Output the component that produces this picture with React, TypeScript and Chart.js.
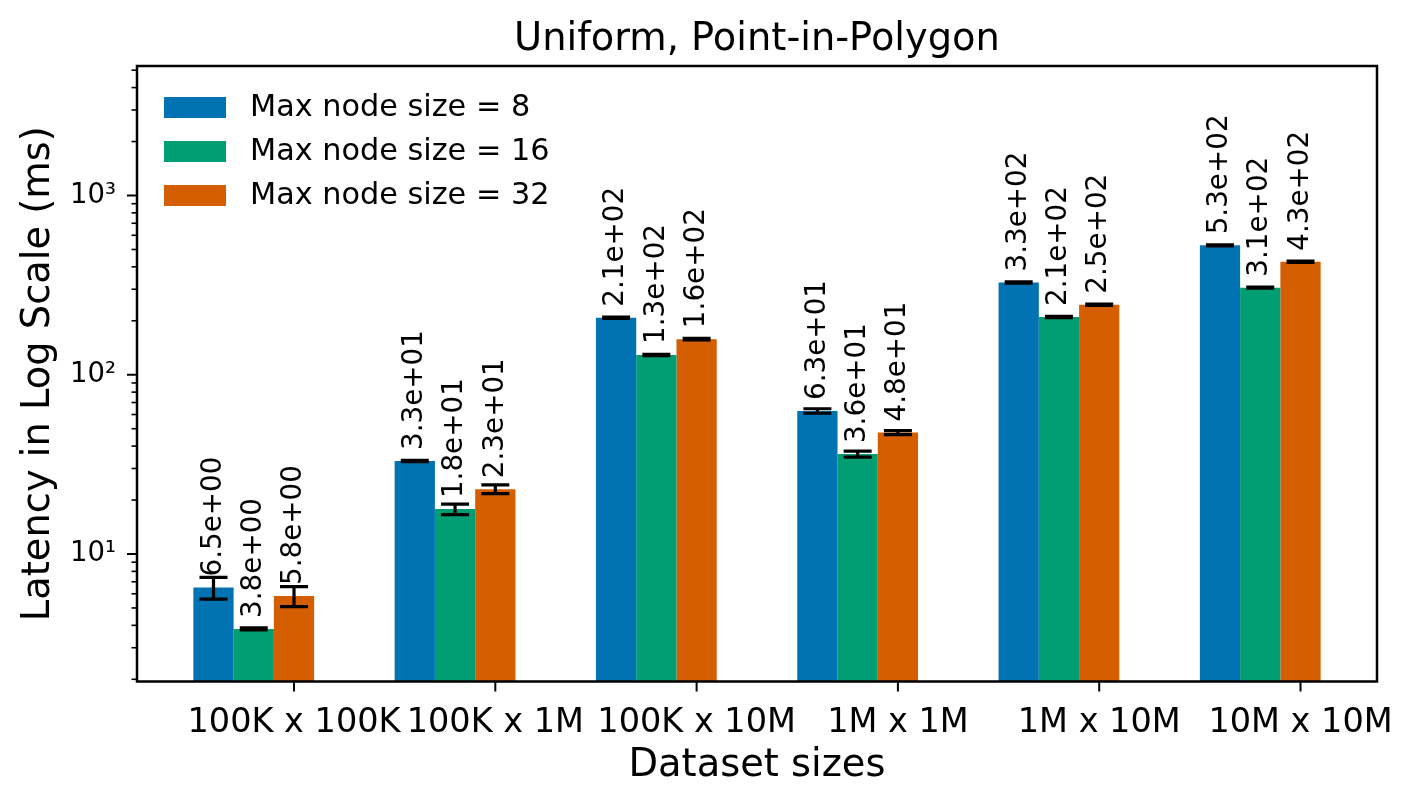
import React, { useEffect, useRef } from 'react';
import { Chart, registerables } from 'chart.js';

Chart.register(...registerables);

// ---------- data ----------
const categories = ['100K x 100K', '100K x 1M', '100K x 10M', '1M x 1M', '1M x 10M', '10M x 10M'];
const seriesLabels = ['Max node size = 8', 'Max node size = 16', 'Max node size = 32'];
const node8 = [6.5, 33.0, 208, 62.8, 327, 527];
const node16 = [3.82, 17.8, 129, 36.1, 210, 306];
const node32 = [5.83, 23.0, 158, 47.6, 246, 427];
const err8 = [0.9, 0.3, 2, 1.8, 2.5, 4];
const err16 = [0.05, 1.2, 1, 1.4, 1.5, 2];
const err32 = [0.75, 1.3, 1.5, 1.2, 2, 3];
const seriesColors = ['#0173B2', '#029E73', '#D55E00'];
const yMajorTicks = [10, 100, 1000];
const yMajorLabels = ['10¹', '10²', '10³'];
const yMinorTicks = [2, 3, 4, 5, 6, 7, 8, 9, 20, 30, 40, 50, 60, 70, 80, 90, 200, 300, 400, 500, 600, 700, 800, 900, 2000, 3000, 4000, 5000];
const yMin = 1.944;
const yMax = 5278;
const xMin = -0.58;
const xMax = 5.58;
const xTickOffset = 0.2;
const chartTitle = 'Uniform, Point-in-Polygon';
const xTitle = 'Dataset sizes';
const yTitle = 'Latency in Log Scale (ms)';

const FAMILY = '"DejaVu Sans", "Liberation Sans", sans-serif';

function sci(v: number): string {
  const [m, e] = v.toExponential(1).split('e');
  const n = parseInt(e, 10);
  return m + 'e' + (n < 0 ? '-' : '+') + String(Math.abs(n)).padStart(2, '0');
}

const overlayPlugin = {
  id: 'overlay',
  afterDatasetsDraw(chart: any) {
    const ctx = chart.ctx;
    const ys = chart.scales.y;
    chart.data.datasets.forEach((ds: any, i: number) => {
      const meta = chart.getDatasetMeta(i);
      meta.data.forEach((el: any, j: number) => {
        const v = ds.data[j].y;
        const e = ds.errors[j];
        const x = el.x;
        const yt = ys.getPixelForValue(v + e);
        const yb = ys.getPixelForValue(v - e);
        ctx.save();
        ctx.strokeStyle = '#000';
        ctx.lineWidth = 3.2;
        ctx.lineCap = 'butt';
        ctx.beginPath();
        ctx.moveTo(x, yt);
        ctx.lineTo(x, yb);
        ctx.moveTo(x - 14, yt);
        ctx.lineTo(x + 14, yt);
        ctx.moveTo(x - 14, yb);
        ctx.lineTo(x + 14, yb);
        ctx.stroke();
        ctx.restore();
      });
    });
    chart.data.datasets.forEach((ds: any, i: number) => {
      const meta = chart.getDatasetMeta(i);
      meta.data.forEach((el: any, j: number) => {
        const v = ds.data[j].y;
        ctx.save();
        ctx.translate(el.x, el.y - 11);
        ctx.rotate(-Math.PI / 2);
        ctx.font = `27.8px ${FAMILY}`;
        ctx.fillStyle = '#000';
        ctx.textAlign = 'left';
        ctx.textBaseline = 'middle';
        ctx.fillText(sci(v), 0, 0);
        ctx.restore();
      });
    });
  },
  afterDraw(chart: any) {
    const ctx = chart.ctx;
    const a = chart.chartArea;
    const xs = chart.scales.x;
    const ys = chart.scales.y;
    ctx.save();
    ctx.strokeStyle = '#000';
    // y ticks
    ctx.lineWidth = 2;
    yMajorTicks.forEach((v) => {
      const p = ys.getPixelForValue(v);
      ctx.beginPath();
      ctx.moveTo(a.left - 10, p);
      ctx.lineTo(a.left, p);
      ctx.stroke();
    });
    ctx.lineWidth = 1.6;
    yMinorTicks.forEach((v) => {
      const p = ys.getPixelForValue(v);
      if (p < a.top - 0.5 || p > a.bottom + 0.5) return;
      ctx.beginPath();
      ctx.moveTo(a.left - 5.5, p);
      ctx.lineTo(a.left, p);
      ctx.stroke();
    });
    // x ticks
    ctx.lineWidth = 2;
    xs.ticks.forEach((t: any) => {
      const p = xs.getPixelForValue(t.value);
      ctx.beginPath();
      ctx.moveTo(p, a.bottom);
      ctx.lineTo(p, a.bottom + 10);
      ctx.stroke();
    });
    // frame
    ctx.lineWidth = 2.5;
    ctx.strokeRect(a.left, a.top, a.right - a.left, a.bottom - a.top);
    // title
    ctx.fillStyle = '#000';
    ctx.font = `38.4px ${FAMILY}`;
    ctx.textAlign = 'center';
    ctx.textBaseline = 'alphabetic';
    ctx.fillText(chartTitle, (a.left + a.right) / 2, 50);
    // legend
    const rowsY = [107.5, 151.5, 195.5];
    chart.data.datasets.forEach((ds: any, i: number) => {
      const cy = rowsY[i];
      ctx.fillStyle = ds.backgroundColor;
      ctx.fillRect(a.left + 27, cy - 10.5, 62, 21);
      ctx.fillStyle = '#000';
      ctx.font = `30.3px ${FAMILY}`;
      ctx.textAlign = 'left';
      ctx.textBaseline = 'middle';
      ctx.fillText(ds.label, a.left + 113, cy + 1);
    });
    ctx.restore();
  },
};

export default function App() {
  const ref = useRef<HTMLCanvasElement>(null);
  useEffect(() => {
    const seriesValues = [node8, node16, node32];
    const seriesErrors = [err8, err16, err32];
    const chart = new Chart(ref.current as HTMLCanvasElement, {
      type: 'bar',
      data: {
        datasets: seriesLabels.map((label, i) => ({
          label,
          data: seriesValues[i].map((y, k) => ({ x: k, y })),
          errors: seriesErrors[i],
          backgroundColor: seriesColors[i],
          borderWidth: 0,
          barPercentage: 1,
          categoryPercentage: 0.6,
        })) as any,
      },
      options: {
        responsive: false,
        animation: false,
        devicePixelRatio: 1,
        layout: { padding: { left: 0, top: 66, right: 35, bottom: 0 } },
        plugins: {
          legend: { display: false },
          title: { display: false },
          tooltip: { enabled: false },
        },
        scales: {
          x: {
            type: 'linear',
            min: xMin,
            max: xMax,
            offset: false,
            bounds: 'data',
            grid: { display: false, offset: false },
            border: { display: false },
            afterBuildTicks: (s: any) => {
              s.ticks = categories.map((_, i) => ({ value: i + xTickOffset }));
            },
            afterFit: (s: any) => {
              s.height = 122.5;
              s.paddingLeft = 0;
              s.paddingRight = 0;
            },
            ticks: {
              autoSkip: false,
              maxRotation: 0,
              minRotation: 0,
              padding: 14,
              color: '#000',
              font: { family: FAMILY, size: 33.5 },
              callback: (_v: any, i: number) => categories[i],
            },
            title: {
              display: true,
              text: xTitle,
              color: '#000',
              font: { family: FAMILY, size: 38.4 },
              padding: { top: 0, bottom: 15 },
            },
          },
          y: {
            type: 'logarithmic',
            min: yMin,
            max: yMax,
            bounds: 'data',
            grid: { display: false },
            border: { display: false },
            afterBuildTicks: (s: any) => {
              s.ticks = [...yMajorTicks, ...yMinorTicks].sort((p, q) => p - q).map((v) => ({ value: v }));
            },
            afterFit: (s: any) => {
              s.width = 137;
              s.paddingTop = 0;
              s.paddingBottom = 0;
            },
            ticks: {
              autoSkip: false,
              padding: 13,
              color: '#000',
              font: { family: FAMILY, size: 27.5 },
              callback: (v: any) => {
                const k = yMajorTicks.indexOf(Number(v));
                return k >= 0 ? yMajorLabels[k] : '';
              },
            },
            title: {
              display: true,
              text: yTitle,
              color: '#000',
              font: { family: FAMILY, size: 38.4 },
              padding: { top: 15.5, bottom: 0 },
            },
          },
        } as any,
      },
      plugins: [overlayPlugin],
    });
    return () => chart.destroy();
  }, []);
  return (
    <div style={{ position: 'absolute', left: 0, top: 0, width: 1412, height: 804, background: '#fff' }}>
      <canvas ref={ref} width={1412} height={804} style={{ display: 'block', width: 1412, height: 804 }} />
    </div>
  );
}
